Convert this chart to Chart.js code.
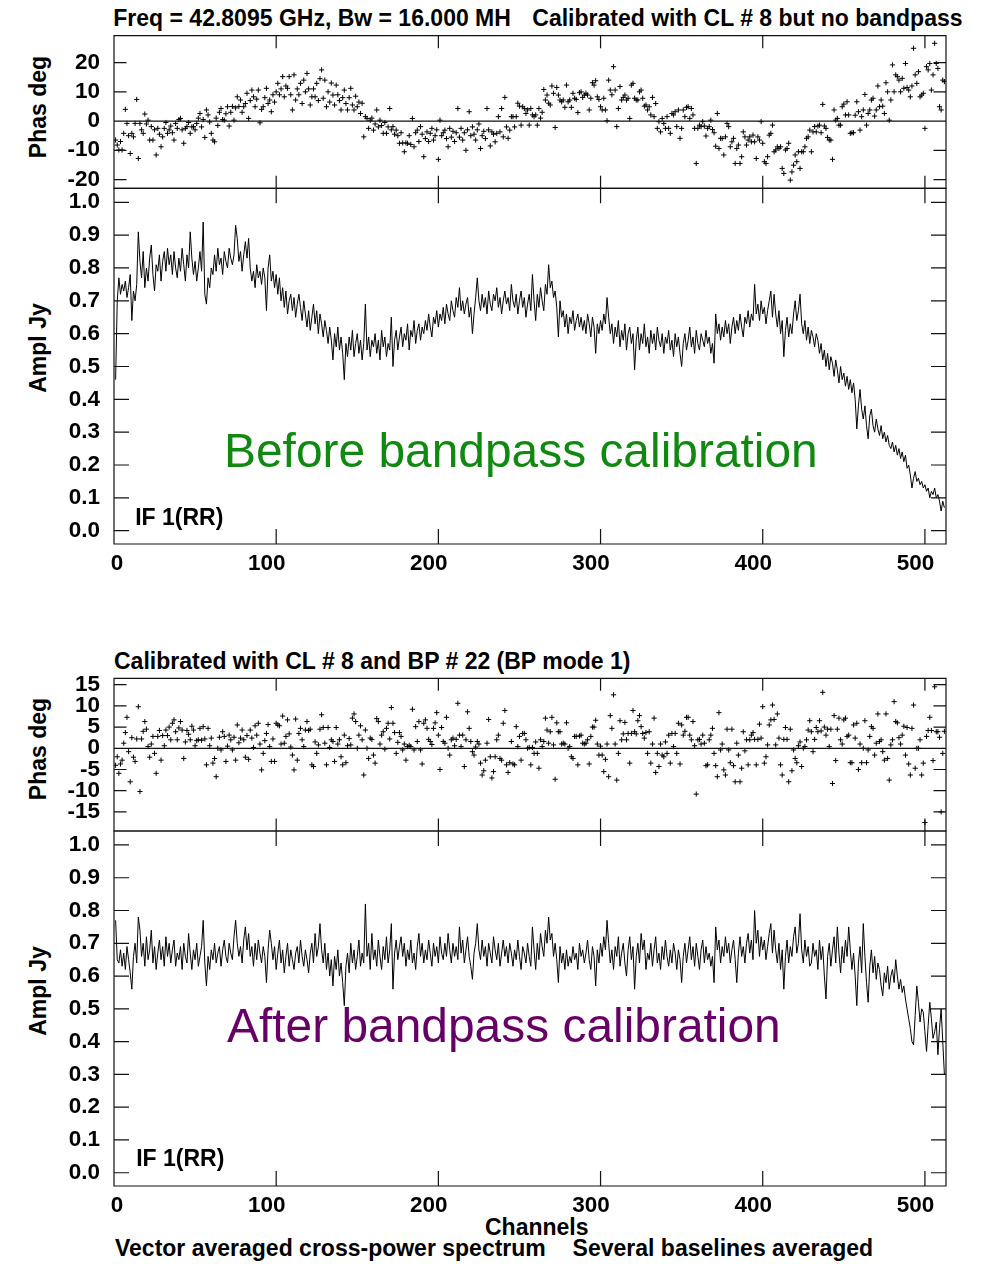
<!DOCTYPE html>
<html>
<head>
<meta charset="utf-8">
<script src="https://cdn.jsdelivr.net/npm/chart.js@4.4.0/dist/chart.umd.min.js"></script>
<style>
html,body{margin:0;padding:0;background:#fff;}
body{width:990px;height:1264px;position:relative;overflow:hidden;font-family:"Liberation Sans",Arial,Helvetica,sans-serif;}
canvas{position:absolute;left:0;}
.t{position:absolute;white-space:nowrap;font-weight:bold;font-size:23px;line-height:23px;color:#000;}
.rot{position:absolute;white-space:nowrap;font-weight:bold;font-size:23px;line-height:23px;color:#000;transform:translate(-50%,-50%) rotate(-90deg);}
.big{position:absolute;white-space:nowrap;font-weight:normal;font-size:47.9px;line-height:47.9px;}
</style>
</head>
<body>
<div class="t" style="left:113.3px;top:7.2px">Freq = 42.8095 GHz, Bw = 16.000 MH</div>
<div class="t" style="left:532.3px;top:7.2px">Calibrated with CL # 8 but no bandpass</div>
<div class="t" style="left:114px;top:649.8px">Calibrated with CL # 8 and BP # 22 (BP mode 1)</div>
<div class="rot" style="left:37.5px;top:107px">Phas deg</div>
<div class="rot" style="left:37.5px;top:348px">Ampl Jy</div>
<div class="rot" style="left:37.5px;top:749px">Phas deg</div>
<div class="rot" style="left:37.5px;top:991px">Ampl Jy</div>
<div class="t" style="left:485px;top:1215.5px">Channels</div>
<div class="t" style="left:115px;top:1237.2px">Vector averaged cross-power spectrum</div>
<div class="t" style="left:572.6px;top:1237.2px">Several baselines averaged</div>

<canvas id="cA" width="990" height="222" style="top:0px;width:990px;height:222px"></canvas>
<canvas id="cB" width="990" height="450" style="top:150px;width:990px;height:450px"></canvas>
<canvas id="cC" width="990" height="222" style="top:640px;width:990px;height:222px"></canvas>
<canvas id="cD" width="990" height="425" style="top:795px;width:990px;height:425px"></canvas>

<div class="t" style="left:135.2px;top:505.5px">IF 1(RR)</div>
<div class="t" style="left:136.2px;top:1147.2px">IF 1(RR)</div>
<div class="big" style="left:224px;top:426.5px;color:#118811">Before bandpass calibration</div>
<div class="big" style="left:227px;top:1001.5px;color:#660066">After bandpass calibration</div>

<script>
// ---------------- data ----------------
const channels = Array.from({length: 512}, (_, i) => i + 1);
const xTicks = [0, 100, 200, 300, 400, 500];
const phaseTicksBefore = [-20, -10, 0, 10, 20];
const phaseTicksAfter = [-15, -10, -5, 0, 5, 10, 15];
const amplTicks = [0.0, 0.1, 0.2, 0.3, 0.4, 0.5, 0.6, 0.7, 0.8, 0.9, 1.0];

const phaseBefore = [
-6.5,-8.2,-9.9,-7,-9.9,-4.2,4,-0.8,-5,-11.1,
-4.2,-5.4,-0.8,7.4,-12.8,-0.8,-3,-4.2,2.4,-1,
0.3,-6.5,-1.9,-6.5,-3,-11.6,-2.5,-4.5,-8.8,-5.4,
-2.5,-0.5,-4.2,-3,-1.7,-4,-6.5,-0.8,-2.5,0.5,
0.9,-3,-7.6,-2.5,-1.9,-0.5,-4.2,-2,-1.9,-3,
-0.8,1,2.6,-2,0.5,-5.6,3.8,2.1,-0.3,-4.2,
-6.5,-7.1,1,-1.5,3,4.3,0.5,0.3,2.5,4.9,
-1.7,3,5,0.3,4.5,8.3,5,7.2,3,4.9,
6,9.5,0.9,7,10.6,8.3,4.9,7.5,10.6,-0.6,
4,4.9,8,11.2,6,7.2,3.2,9,6.5,10,
12.9,9,11,15.2,8.3,12,11.2,15.2,9,3.8,
15.8,7.2,11,9,12.9,6,14,10,16.3,11,
5.5,8.3,11,8.3,12.9,7,14.5,17.5,7.8,14,
4.9,10,6.5,13,8.9,5.5,12.3,9,7,3.8,
8,10.6,6,3.8,8,11.2,5.5,3.8,8.5,4.9,
6.5,2.6,6.1,-5.4,1.5,0.9,-2.5,0.3,1,-3.1,
-1,3.8,-2,0.3,-1.5,-4.2,-0.5,-4.2,-2,4.3,
-3,-1.9,-4.5,-3.1,-5,-7.6,-4,-7.5,-10.5,-7.5,
-7.6,-5,-8,0.9,-8.8,-4,-3.1,-7,-1.9,-4.5,
-12.2,-6,-3.7,-7,-4.2,-2.5,-6.5,-5,-3,-13.1,
0.3,-5,-4,-3.1,-6,-8.8,-2.5,-5.5,-3.5,-7,
-4,4.3,-5.5,-2.5,-6.5,-4,-10,-3,3.2,-5,
-2,-4.5,-6.5,-3,-1,-9.4,-5,-3.5,-6,4.3,
-3,-8.5,-3.7,-4.5,-7.1,-4.2,1.5,-3.7,4.3,-5.4,
8.1,-2,-5.9,-3.1,1.5,1.5,-2,1.5,6.1,5.1,
-1.4,4.9,4.3,2.6,3.8,-1.4,4.3,2.1,1.5,2.1,
-1.4,4.3,1,3,10.8,7.2,8.9,6.1,5.5,12,
9.5,-2.2,11.5,8.9,7.2,6.6,7.2,4.7,12.3,6.6,
7.2,4.7,9.5,7.8,7.4,2.9,9.7,10,8.1,8.9,
9.5,8.9,3.8,7.8,13.1,12.3,13.8,8.3,7.4,4.9,
3.8,7.8,3.8,0.1,14,10.6,9,18.6,10.6,-1.9,
4.3,11.8,7.2,8.1,8.9,7.2,7.8,0.9,12.3,12.9,
7.8,7.2,7.2,10,10.6,7.8,5.1,5.5,3.8,4.9,
2.1,8.1,1.5,6,-2.5,-0.2,-3.7,0.9,-0.8,-2.5,
1.5,-2.5,-4.2,2.6,2.1,3.2,-1.9,3.8,-5.9,-2.5,
3.8,1.5,4.7,4.9,0.9,4.3,2.1,-2.5,-14.5,-2.5,
-1.4,-1.9,-0.2,-1.7,-5.1,-2.5,-1.9,0.3,-2.9,-4,
-8.6,2.6,-9.4,-5.9,-6,-11.6,-5.4,-0.8,-1.9,-8.8,
-7.1,-5.9,-14.5,-9.4,-8.2,-14.5,-12.2,-3.7,-5.4,-8.2,
-6.5,-5.4,-7.1,-4.8,-7.1,-12.8,-5.4,-6.5,-0.2,-7.6,
-13.9,-14.5,-12.2,-4.8,-4.2,-1.4,-10.5,-9.9,-8.8,-9.4,
-8.8,-16.2,-17.9,-9.9,-9.4,-7.6,-20.2,-17.4,-15.1,-11.6,
-13.9,-10.5,-16.2,-10.5,-10.5,-8.8,-5.9,-5.4,-3.1,-10.5,
-3.7,-1.9,-3.7,-1.7,-1.4,-4,5.7,-1.7,-2.5,-5.6,
-6.5,-6.5,-13.1,3.8,0.3,0.9,-1.4,-1.4,4.9,5.8,
2.1,6.6,2.1,-4.2,-4,-4,2,6.6,3.2,-3.1,
1.5,3.8,9.1,-1.4,2.6,3.8,7.2,7.8,1.7,3.8,
12,4.9,7.2,5.1,2.6,13.1,10,0.3,7.2,19.2,
10,15.8,15.2,14,10,14.6,11.2,19.7,11.5,10.6,
8.3,12,24.9,15.8,12.9,16.9,8.3,8.9,9.5,-2.5,
18.6,17.5,19.7,10.6,15.8,26.6,19.7,18,4.9,3.8,
14,13.5
];

const ampBefore = [
0.46,0.70,0.77,0.72,0.75,0.73,0.76,0.71,0.74,0.78,0.64,0.73,0.70,0.75,0.91,0.82,
0.77,0.85,0.74,0.80,0.76,0.83,0.87,0.78,0.73,0.81,0.79,0.84,0.76,0.82,0.85,0.79,
0.86,0.81,0.84,0.78,0.85,0.80,0.77,0.83,0.79,0.86,0.81,0.76,0.84,0.80,0.91,0.83,
0.78,0.82,0.76,0.80,0.85,0.79,0.94,0.72,0.69,0.77,0.74,0.80,0.78,0.84,0.79,0.86,
0.81,0.83,0.78,0.85,0.82,0.80,0.86,0.83,0.81,0.84,0.93,0.89,0.82,0.85,0.79,0.84,
0.88,0.83,0.89,0.80,0.76,0.79,0.74,0.81,0.77,0.79,0.75,0.80,0.77,0.67,0.80,0.84,
0.76,0.79,0.74,0.78,0.72,0.77,0.70,0.74,0.68,0.73,0.66,0.70,0.72,0.67,0.71,0.65,
0.69,0.72,0.68,0.64,0.70,0.66,0.62,0.67,0.61,0.65,0.69,0.63,0.67,0.60,0.66,0.63,
0.59,0.64,0.61,0.57,0.62,0.58,0.52,0.60,0.56,0.62,0.55,0.59,0.54,0.46,0.57,0.53,
0.59,0.55,0.61,0.53,0.57,0.60,0.54,0.58,0.52,0.57,0.69,0.55,0.59,0.53,0.58,0.56,
0.60,0.54,0.58,0.52,0.61,0.56,0.59,0.53,0.57,0.55,0.65,0.50,0.58,0.61,0.55,0.59,
0.62,0.56,0.60,0.58,0.63,0.55,0.61,0.59,0.64,0.57,0.61,0.63,0.58,0.62,0.60,0.64,
0.61,0.66,0.62,0.59,0.65,0.63,0.67,0.62,0.66,0.64,0.68,0.63,0.69,0.66,0.64,0.70,
0.67,0.65,0.71,0.68,0.74,0.67,0.70,0.66,0.69,0.71,0.65,0.68,0.60,0.66,0.71,0.77,
0.70,0.67,0.72,0.68,0.71,0.66,0.73,0.69,0.67,0.72,0.70,0.74,0.68,0.71,0.66,0.70,
0.73,0.69,0.71,0.67,0.75,0.70,0.68,0.72,0.66,0.70,0.73,0.68,0.71,0.65,0.69,0.72,
0.67,0.78,0.70,0.64,0.72,0.68,0.74,0.70,0.67,0.75,0.72,0.81,0.74,0.76,0.71,0.73,
0.68,0.59,0.70,0.65,0.67,0.62,0.66,0.60,0.65,0.63,0.67,0.61,0.64,0.66,0.62,0.65,
0.61,0.64,0.60,0.66,0.63,0.59,0.65,0.62,0.54,0.63,0.60,0.64,0.61,0.66,0.63,0.71,
0.65,0.60,0.63,0.57,0.62,0.59,0.64,0.56,0.61,0.58,0.63,0.55,0.60,0.62,0.57,0.60,
0.49,0.58,0.62,0.55,0.60,0.57,0.63,0.56,0.59,0.54,0.61,0.57,0.60,0.55,0.62,0.58,
0.56,0.60,0.54,0.59,0.57,0.61,0.55,0.58,0.53,0.60,0.56,0.59,0.54,0.50,0.57,0.60,
0.55,0.58,0.62,0.56,0.59,0.54,0.61,0.57,0.55,0.60,0.58,0.56,0.61,0.57,0.59,0.54,
0.57,0.51,0.66,0.60,0.63,0.58,0.62,0.59,0.64,0.60,0.63,0.57,0.62,0.65,0.60,0.64,
0.61,0.66,0.62,0.59,0.65,0.63,0.67,0.62,0.66,0.64,0.75,0.66,0.69,0.64,0.70,0.66,
0.68,0.63,0.67,0.70,0.73,0.65,0.72,0.66,0.62,0.67,0.60,0.64,0.53,0.61,0.65,0.59,
0.63,0.60,0.66,0.70,0.64,0.67,0.72,0.63,0.60,0.64,0.58,0.62,0.57,0.61,0.59,0.56,
0.60,0.58,0.54,0.57,0.52,0.55,0.50,0.54,0.49,0.53,0.51,0.47,0.52,0.49,0.45,0.50,
0.46,0.48,0.44,0.47,0.43,0.46,0.42,0.45,0.40,0.31,0.38,0.43,0.37,0.34,0.38,0.32,
0.28,0.35,0.37,0.32,0.30,0.34,0.31,0.29,0.32,0.28,0.30,0.27,0.29,0.26,0.25,0.27,
0.24,0.26,0.23,0.25,0.22,0.24,0.21,0.23,0.19,0.20,0.17,0.13,0.16,0.18,0.15,0.16,
0.14,0.15,0.13,0.14,0.12,0.13,0.10,0.12,0.11,0.13,0.10,0.11,0.09,0.06,0.09,0.07
];

const phaseAfter = [
-4,-2,-5.9,-3.7,-2.8,1.2,3.7,7.3,-0.8,-7.9,
2.5,-2.1,-3.1,2.2,9.8,-10.2,2.2,4,6.3,4.5,
0.4,-2.1,1,2.8,-1.2,-5.9,2.8,4.2,-2.8,3,
0.6,4.3,3,5,2,5.9,6.7,3.9,2,4.8,
6.3,4.3,-2.4,1.5,4.2,3.3,2,5.2,4.3,0.6,
1.8,2,4.7,1.9,5.1,2.2,-3.9,4.7,0.6,2.4,
-3.5,-2.4,-6.7,0,2.6,-0.4,3.9,2.8,-3.1,0.5,
3.1,2,-0.4,2.6,-2.8,5.5,1.3,2.4,4.3,2,
-2.1,3,-2.6,4.3,2.4,0.2,5.3,3.1,5.9,1,
-5.1,-1.2,1.8,3.5,5.6,0.4,-3.1,2.2,-3.1,5.9,
5.5,5.3,1,7.6,1.2,2.8,6.7,3.4,0.3,-1.6,
-5.1,6.9,-2.8,3.5,4.7,2,0.4,4.3,6.3,4.2,
4.5,-3.9,-4.3,1.5,-1.2,0.8,4.5,7.9,4.9,1.2,
-3.9,4.9,0.2,2,1.6,-3.1,4.9,1,2,-2,
-3.9,3.1,-3.4,0.6,2.3,0.8,7.1,8.1,6.3,0,
3.1,5.3,2,-6.3,4.3,0,-2.4,2.4,2.1,-1.6,
-3.5,7,6.3,1,3.1,3.9,-0.2,4.7,5.9,2.2,
9.6,5.9,3.7,-1.2,1.4,3.7,2.8,-0.4,1,-2.8,
0.4,0.7,0.4,9.2,-0.4,5.1,1.6,6.3,-0.4,-3.7,
5.9,6.7,4.7,2.1,1.6,0.9,4.7,6,8.4,3.1,
-5,4.9,1.6,1.2,7.3,0,-1.6,2,2.4,0.6,
2.1,10.6,3.1,0.4,3.1,-4.3,2,8.6,4.7,1.6,
-0.8,-1.6,0.3,1.6,1,-3.5,-6.3,-5.3,-2.8,1.2,
6.8,-2,-7,-5.5,-2,2,3.1,-2.4,-2.8,5.9,
8.9,-3.9,-5.7,-3.4,1.6,-3.7,-3.9,5.1,0.4,2.8,
-2.8,3.5,3.5,2,0,0.2,-3.9,0.2,-1.2,1.5,
-1.2,-4.7,2,0.4,1.6,7.1,4.3,1.2,3.9,7.3,
0.8,-7.3,6,3.9,3.9,1,1.2,1,6,0,
0.4,-2,-2.4,2.8,2.8,-3.9,2.9,3.1,1.2,1,
1.2,2,-3.7,2.8,5,5,6.6,1,-1.6,0.5,
-1.6,-5.5,-2.6,1,-6.7,7.7,4.7,12.6,1,-7.5,
-1.2,6.5,2,3.4,6.1,2,3.5,-3.5,3.5,8.9,
3.9,3.4,6.5,7.7,5.1,3.5,2.4,3.7,-1.2,3.9,
-3.5,1,7.1,-5.7,-1.2,-4.3,1,-1.6,-2,1.5,
-1.2,3.1,-3.5,3.5,0.4,3.5,-1.2,5.9,-3.7,5.5,
3.1,4,7.3,7.3,3.1,2,6.3,0.6,-10.8,2,
2.1,1,3.1,1.2,-4.1,-3.9,2,3.1,4.7,-1.2,
-4.1,-6.7,8.4,-0.4,1,-5.1,-6.3,4.5,-0.4,-3.4,
4.5,-4.1,-7.9,1.2,-1.6,-7.9,-4.7,3.9,-0.6,2,
-3.9,2,3.1,3.7,2.1,-3.9,2.1,5.7,2.4,9.8,
-3.5,-2,0.8,5.5,6.7,10.2,6.8,0.8,8.1,2.4,
-3.9,-6.3,2.1,4.9,2.1,-7.9,4.5,-5.3,-0.4,-2.4,
-3.4,0.6,1.5,-4.3,0,0.4,2,4.3,6.5,3.9,
-0.8,2.1,4.9,3.9,6.5,4.1,13.2,5,3.1,4.5,
0.4,4.5,-8.3,7.7,-2.9,4.5,7.1,2,1,6.7,
7.1,2.8,3.1,-3.4,-3.4,5.5,2.4,5.9,-5,1,
-3.4,0,6.5,-3.4,-0.4,2.8,5.1,4.7,-1.6,1.2,
8.1,1.6,2,-0.8,-2.8,8.1,-2.4,-7.5,0.8,2,
11,6.3,6,2.5,1,3.1,5.2,-1.6,4.9,-3.7,
-6.3,4.7,10.2,-4.7,0,0,2,-6.3,-3.5,-17.5,
2.8,4.2,7.3,4.2,-2.9,14.5,3.9,3.9,2.6,-15,
-1.2,4
];

const ampAfter = [
0.77,0.65,0.64,0.68,0.63,0.67,0.62,0.69,0.65,0.61,0.56,0.66,0.70,0.64,0.78,0.74,
0.66,0.70,0.63,0.72,0.65,0.68,0.74,0.64,0.69,0.62,0.67,0.71,0.65,0.69,0.63,0.72,
0.66,0.70,0.64,0.68,0.71,0.63,0.67,0.65,0.69,0.62,0.70,0.66,0.64,0.73,0.67,0.62,
0.68,0.65,0.70,0.63,0.66,0.69,0.77,0.64,0.57,0.66,0.62,0.68,0.65,0.70,0.64,0.67,
0.69,0.63,0.68,0.71,0.66,0.64,0.70,0.67,0.65,0.72,0.77,0.70,0.66,0.69,0.64,0.71,
0.75,0.68,0.73,0.66,0.69,0.63,0.70,0.65,0.71,0.67,0.64,0.69,0.66,0.58,0.68,0.74,
0.70,0.65,0.69,0.62,0.67,0.71,0.64,0.68,0.61,0.66,0.70,0.63,0.68,0.65,0.62,0.67,
0.69,0.64,0.71,0.66,0.63,0.68,0.65,0.61,0.67,0.70,0.64,0.73,0.66,0.69,0.76,0.68,
0.64,0.70,0.62,0.67,0.60,0.65,0.57,0.66,0.62,0.68,0.60,0.64,0.58,0.51,0.63,0.67,
0.61,0.70,0.64,0.68,0.62,0.66,0.71,0.63,0.67,0.64,0.82,0.66,0.70,0.62,0.73,0.65,
0.68,0.63,0.71,0.66,0.62,0.69,0.65,0.72,0.64,0.68,0.76,0.56,0.67,0.71,0.65,0.69,
0.72,0.66,0.70,0.63,0.68,0.65,0.71,0.64,0.67,0.62,0.69,0.73,0.66,0.70,0.64,0.68,
0.65,0.71,0.67,0.63,0.70,0.66,0.69,0.64,0.72,0.67,0.65,0.70,0.66,0.73,0.68,0.64,
0.70,0.66,0.69,0.65,0.75,0.67,0.71,0.64,0.68,0.72,0.66,0.63,0.59,0.67,0.70,0.76,
0.68,0.65,0.71,0.66,0.69,0.63,0.70,0.67,0.64,0.72,0.68,0.65,0.70,0.63,0.67,0.71,
0.66,0.69,0.64,0.70,0.67,0.63,0.68,0.65,0.71,0.66,0.62,0.69,0.67,0.64,0.70,0.66,
0.63,0.75,0.68,0.62,0.70,0.65,0.73,0.69,0.66,0.74,0.70,0.78,0.71,0.73,0.66,0.70,
0.65,0.58,0.69,0.64,0.67,0.62,0.68,0.63,0.66,0.64,0.69,0.65,0.67,0.62,0.70,0.66,
0.68,0.64,0.67,0.71,0.65,0.62,0.69,0.66,0.57,0.68,0.64,0.70,0.66,0.72,0.68,0.77,
0.70,0.64,0.68,0.62,0.69,0.66,0.72,0.63,0.67,0.70,0.64,0.60,0.68,0.72,0.65,0.69,
0.56,0.66,0.70,0.64,0.73,0.68,0.71,0.62,0.67,0.65,0.70,0.63,0.68,0.72,0.64,0.67,
0.62,0.69,0.65,0.71,0.66,0.63,0.68,0.64,0.70,0.67,0.62,0.68,0.65,0.58,0.66,0.70,
0.64,0.68,0.72,0.65,0.69,0.63,0.70,0.66,0.62,0.68,0.71,0.64,0.69,0.65,0.67,0.63,
0.66,0.58,0.75,0.68,0.71,0.64,0.69,0.66,0.72,0.67,0.70,0.64,0.68,0.71,0.65,0.58,
0.67,0.72,0.66,0.69,0.64,0.70,0.73,0.67,0.71,0.65,0.80,0.70,0.74,0.66,0.72,0.68,
0.71,0.65,0.69,0.73,0.76,0.67,0.74,0.68,0.64,0.70,0.62,0.68,0.56,0.66,0.71,0.64,
0.69,0.66,0.72,0.75,0.67,0.70,0.79,0.68,0.64,0.71,0.66,0.69,0.63,0.64,0.70,0.66,
0.68,0.62,0.71,0.65,0.69,0.60,0.53,0.66,0.70,0.63,0.68,0.72,0.64,0.75,0.67,0.61,
0.69,0.64,0.71,0.66,0.75,0.68,0.62,0.67,0.60,0.51,0.64,0.69,0.61,0.76,0.66,0.58,
0.52,0.63,0.68,0.61,0.66,0.59,0.64,0.62,0.57,0.54,0.61,0.58,0.63,0.56,0.60,0.62,
0.58,0.65,0.60,0.56,0.59,0.55,0.57,0.53,0.50,0.47,0.44,0.40,0.39,0.48,0.57,0.52,
0.46,0.50,0.49,0.43,0.37,0.45,0.52,0.47,0.41,0.43,0.46,0.36,0.44,0.50,0.40,0.30
];

// ---------------- drawing ----------------
const FAMILY = '"Liberation Sans", Arial, Helvetica, sans-serif';
const TICKFONT = {family: FAMILY, weight: 'bold', size: 22.5};

function pts(arr) { return channels.map((c, i) => ({x: c, y: arr[i]})); }

function framePlugin(len, yt, zero) {
  return {
    id: 'frame',
    afterDatasetsDraw(chart) {
      const {ctx, chartArea: a, scales: {x, y}} = chart;
      ctx.save();
      ctx.strokeStyle = '#111';
      ctx.lineWidth = 1.2;
      ctx.beginPath();
      ctx.rect(a.left, a.top, a.right - a.left, a.bottom - a.top);
      xTicks.forEach(v => {
        const p = x.getPixelForValue(v);
        if (p > a.left + 1 && p < a.right - 1) {
          ctx.moveTo(p, a.bottom); ctx.lineTo(p, a.bottom - len);
          ctx.moveTo(p, a.top); ctx.lineTo(p, a.top + len);
        }
      });
      yt.forEach(v => {
        const p = y.getPixelForValue(v);
        ctx.moveTo(a.left, p); ctx.lineTo(a.left + len, p);
        ctx.moveTo(a.right, p); ctx.lineTo(a.right - len, p);
      });
      if (zero) {
        const p = y.getPixelForValue(0);
        ctx.moveTo(a.left, p); ctx.lineTo(a.right, p);
      }
      ctx.stroke();
      ctx.restore();
    }
  };
}

function makeChart(id, cfg) {
  return new Chart(document.getElementById(id), {
    type: 'scatter',
    data: {
      datasets: [{
        data: pts(cfg.values),
        showLine: cfg.line,
        borderColor: '#000',
        backgroundColor: '#000',
        borderWidth: 1,
        pointRadius: cfg.line ? 0 : 2.6,
        pointStyle: 'cross',
        pointBorderWidth: 1,
        pointBorderColor: '#000',
        tension: 0
      }]
    },
    options: {
      responsive: false,
      animation: false,
      events: [],
      layout: {padding: {left: 0, right: 44, top: cfg.padTop, bottom: cfg.padBottom}},
      plugins: {legend: {display: false}, tooltip: {enabled: false}, title: {display: false}},
      scales: {
        x: {
          type: 'linear', min: 0, max: 513, display: cfg.showX,
          grid: {display: false, drawTicks: false}, border: {display: false},
          ticks: {
            stepSize: 100, includeBounds: false, padding: 6.5, labelOffset: -9.5,
            maxRotation: 0, autoSkip: false, color: '#000', font: TICKFONT,
            callback: v => (v === 0 ? '    0' : String(v))
          },
          afterFit: s => { s.height = cfg.xHeight; }
        },
        y: {
          type: 'linear', min: cfg.yMin, max: cfg.yMax,
          grid: {display: false, drawTicks: false}, border: {display: false},
          ticks: {
            stepSize: cfg.step, includeBounds: false, padding: 14, autoSkip: false,
            color: '#000', font: TICKFONT, callback: cfg.fmt
          },
          afterFit: s => { s.width = 114; }
        }
      }
    },
    plugins: [framePlugin(cfg.tickLen, cfg.yTicks, cfg.zero)]
  });
}

const phaseFmt = v => String(v);
const amplFmt = v => Number(v).toFixed(1);

makeChart('cA', {values: phaseBefore, line: false, yMin: -23, yMax: 29.2, step: 10, yTicks: phaseTicksBefore,
  fmt: phaseFmt, showX: false, padTop: 35.7, padBottom: 33.7, xHeight: 0, tickLen: 12.5, zero: true});
makeChart('cB', {values: ampBefore, line: true, yMin: -0.0405, yMax: 1.0426, step: 0.1, yTicks: amplTicks,
  fmt: amplFmt, showX: true, padTop: 38.3, padBottom: 0, xHeight: 56, tickLen: 15, zero: false});
makeChart('cC', {values: phaseAfter, line: false, yMin: -19.5, yMax: 16.5, step: 5, yTicks: phaseTicksAfter,
  fmt: phaseFmt, showX: false, padTop: 38.3, padBottom: 31, xHeight: 0, tickLen: 12.5, zero: true});
makeChart('cD', {values: ampAfter, line: true, yMin: -0.0405, yMax: 1.0426, step: 0.1, yTicks: amplTicks,
  fmt: amplFmt, showX: true, padTop: 36, padBottom: 0, xHeight: 34, tickLen: 15, zero: false});
</script>
</body>
</html>
